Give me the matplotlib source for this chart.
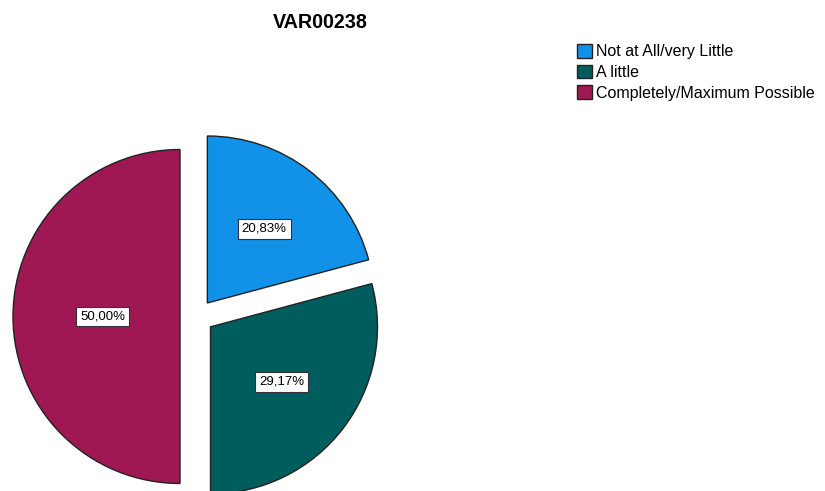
import numpy as np
import matplotlib
matplotlib.use("Agg")
import matplotlib.pyplot as plt

# ── Data ─────────────────────────────────────────────
categories = ["Not at All/very Little", "A little", "Completely/Maximum Possible"]
percents = [20.83, 29.17, 50.00]
colors = ["#1192e8", "#005d5d", "#9f1853"]
title = "VAR00238"

plt.rcParams["font.family"] = ["Liberation Sans", "DejaVu Sans"]

W, H = 825, 491
fig = plt.figure(figsize=(W / 100, H / 100), dpi=100)
ax = fig.add_axes([0, 0, 1, 1])

cx, cy, r = 197, H - 316.5, 167
# explode is in data units here (pixels)
wedges, _ = ax.pie(
    percents,
    colors=colors,
    startangle=90,
    counterclock=False,
    explode=[17] * len(percents),
    radius=r,
    center=(cx, cy),
    wedgeprops=dict(edgecolor="#222222", linewidth=1),
)
ax.set_xlim(0, W)
ax.set_ylim(0, H)
ax.set_aspect("equal")
ax.axis("off")

# percentage labels, placed between the wedge centroid and half radius
for w, p in zip(wedges, percents):
    t1, t2 = np.radians(w.theta1), np.radians(w.theta2)
    half = (t2 - t1) / 2
    mid = (t1 + t2) / 2
    c = 2 * np.sin(half) / (3 * half)
    d = r * (c + 0.5) / 2
    wx, wy = w.center
    ax.text(
        wx + d * np.cos(mid),
        wy + d * np.sin(mid),
        f"{p:.2f}%".replace(".", ","),
        ha="center",
        va="center",
        fontsize=9.5,
        bbox=dict(boxstyle="square,pad=0.3", facecolor="white", edgecolor="#333333", linewidth=0.8),
    )

fig.text(320 / W, 1 - 22 / H, title, ha="center", va="center", fontsize=14.2, fontweight="bold")

leg = fig.legend(
    wedges,
    categories,
    loc="upper left",
    bbox_to_anchor=(577 / W, 1 - 44 / H),
    frameon=False,
    fontsize=11.5,
    handlelength=0.95,
    handleheight=0.95,
    handletextpad=0.25,
    labelspacing=0.33,
    borderpad=0,
    borderaxespad=0,
)

fig.savefig("out.png", dpi=100)
